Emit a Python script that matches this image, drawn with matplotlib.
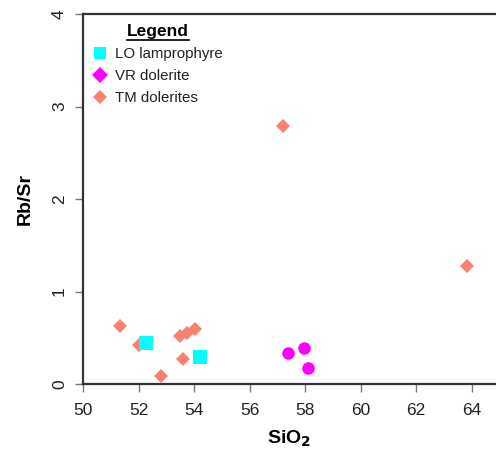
import matplotlib
matplotlib.use("Agg")
import matplotlib.pyplot as plt
from matplotlib.lines import Line2D

plt.rcParams['font.family'] = ['Liberation Sans', 'DejaVu Sans']

# LO lamprophyre
lo_sio2 = [52.28, 54.2]
lo_rbsr = [0.44, 0.29]

# VR dolerite
vr_sio2 = [57.4, 57.95, 58.1]
vr_rbsr = [0.34, 0.39, 0.17]

# TM dolerites
tm_sio2 = [51.35, 52.0, 52.8, 53.5, 53.75, 54.05, 53.6, 57.2, 63.85]
tm_rbsr = [0.63, 0.42, 0.09, 0.52, 0.55, 0.6, 0.27, 2.79, 1.28]

xticks = [50, 52, 54, 56, 58, 60, 62, 64]
yticks = [0, 1, 2, 3, 4]

CYAN = '#00ffff'
MAGENTA = '#ff00ff'
SALMON = '#fa8072'
SPINE = '#333333'

fig = plt.figure(figsize=(4.96, 4.51), dpi=100)
ax = fig.add_axes([83 / 496, 67 / 451, 1 - 83 / 496, 370 / 451])

ax.plot(tm_sio2, tm_rbsr, 'D', color=SALMON, markersize=7.5, markeredgewidth=0, label='TM dolerites')
ax.plot(lo_sio2, lo_rbsr, 's', color=CYAN, markersize=9.5, markeredgewidth=0, label='LO lamprophyre')
ax.plot(vr_sio2, vr_rbsr, 'o', color=MAGENTA, markersize=9, markeredgewidth=0, label='VR dolerite')

ax.set_xlim(50, 50 + 413 / 27.75)
ax.set_ylim(0, 4)
ax.set_xticks(xticks)
ax.set_yticks(yticks)
ax.tick_params(axis='both', direction='out', length=5.5, width=1, color='#777777',
               labelsize=12.5, labelcolor='#222222')
ax.tick_params(axis='x', pad=8)
ax.tick_params(axis='y', pad=6)
for lab in ax.get_yticklabels():
    lab.set_rotation(90)
    lab.set_va('center')

for side in ['left', 'bottom', 'top']:
    ax.spines[side].set_color(SPINE)
    ax.spines[side].set_linewidth(1.6)
ax.spines['right'].set_visible(False)

ax.set_xlabel('SiO$_\\mathbf{2}$', fontsize=14, fontweight='bold', labelpad=8)
ax.set_ylabel('Rb/Sr', fontsize=14, fontweight='bold', labelpad=13)

handles = [
    Line2D([], [], marker='s', linestyle='none', color=CYAN, markersize=9, markeredgewidth=0),
    Line2D([], [], marker='D', linestyle='none', color=MAGENTA, markersize=8, markeredgewidth=0),
    Line2D([], [], marker='D', linestyle='none', color=SALMON, markersize=7, markeredgewidth=0),
]
labels = ['LO lamprophyre', 'VR dolerite', 'TM dolerites']
leg = ax.legend(handles, labels, loc='upper left', frameon=False, fontsize=10.8,
                title='Legend', title_fontproperties={'weight': 'bold', 'size': 12.5},
                handlelength=1.0, handletextpad=0.5, labelspacing=0.55,
                borderaxespad=0.25, bbox_to_anchor=(0.0, 1.0))
for t in leg.get_texts():
    t.set_color('#222222')

# underline the legend title
fig.canvas.draw()
bb = leg.get_title().get_window_extent()
fig.add_artist(Line2D([bb.x0, bb.x1], [bb.y0 - 1, bb.y0 - 1], transform=None,
                      color='black', linewidth=1.2))

fig.savefig('out.png', dpi=100)
